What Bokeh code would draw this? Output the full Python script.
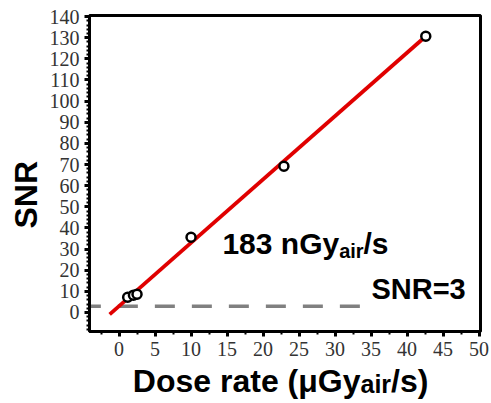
import math
from bokeh.plotting import figure
from bokeh.models import Label, SingleIntervalTicker, Range1d
from bokeh.layouts import column, row
from bokeh.embed import file_html
from bokeh.resources import INLINE

# ---- data ----
dose_rate = [1.2, 2.0, 2.5, 10.0, 22.9, 42.6]      # µGy_air/s
snr = [7.2, 8.2, 8.6, 35.6, 69.2, 130.7]
fit_x = [-1.3, 42.6]
fit_y = [-0.9, 130.7]
threshold_x = [-5.3, 35.8]
threshold_snr = [3, 3]
x_tick_interval = 5
y_tick_interval = 10
lod_text = "183 nGy"
snr_text = "SNR=3"
x_title = "Dose rate (\u03bcGy"
y_title = "SNR"

SANS = "Liberation Sans"
SERIF = "Liberation Serif"

TOTAL_W, TOTAL_H = 490, 402
LEFT_W = 46
MAIN_H = 364

p = figure(width=TOTAL_W - LEFT_W, height=MAIN_H,
           x_range=Range1d(-4.1, 50.2), y_range=Range1d(-9, 140.5),
           output_backend="svg", toolbar_location=None,
           min_border_left=41, min_border_right=10,
           min_border_top=15, min_border_bottom=33)
p.grid.visible = False
p.outline_line_color = "black"
p.outline_line_width = 3
p.outline_line_alpha = 1.0

p.xaxis.ticker = SingleIntervalTicker(interval=x_tick_interval, num_minor_ticks=2)
p.yaxis.ticker = SingleIntervalTicker(interval=y_tick_interval, num_minor_ticks=5)

for ax in (p.xaxis, p.yaxis):
    ax.axis_line_width = 3
    ax.axis_line_color = "black"
    ax.major_tick_line_width = 3
    ax.major_tick_line_color = "black"
    ax.major_tick_out = 5
    ax.major_tick_in = 0
    ax.minor_tick_line_width = 2
    ax.minor_tick_line_color = "black"
    ax.minor_tick_out = 3
    ax.minor_tick_in = 0
    ax.major_label_text_font = SERIF
    ax.major_label_text_font_size = "20px"
    ax.major_label_text_color = "#333333"
p.yaxis.major_label_standoff = 5
p.xaxis.major_label_standoff = 5

# threshold line
p.line(threshold_x, threshold_snr, line_color="#808080", line_width=3.5, line_dash="20 17")
# fit line
p.line(fit_x, fit_y, line_color="#e00000", line_width=3.8)
# data
p.scatter(dose_rate, snr, marker="circle", size=9, line_color="black", line_width=2.5,
          fill_color="white")


def lab(fig, x, y, text, size, align="left", angle=0.0):
    fig.add_layout(Label(x=x, y=y, text=text, text_font=SANS, text_font_style="bold",
                         text_font_size=size, text_color="black", text_align=align,
                         text_baseline="alphabetic", angle=angle))


# "183 nGy_air/s"
lab(p, 30.57, 32.7, lod_text, "30px", align="right")
lab(p, 30.57, 28.9, "air", "20px")
lab(p, 33.95, 32.7, "/s", "30px")
# "SNR=3"
lab(p, 41.6, 11.0, snr_text, "29px", align="center")


def blank(w, h):
    f = figure(width=w, height=h, x_range=Range1d(0, w), y_range=Range1d(0, h),
               output_backend="svg", toolbar_location=None,
               x_axis_location=None, y_axis_location=None,
               min_border=0)
    f.grid.visible = False
    f.outline_line_color = None
    return f


# y axis title (panel left of the plot)
fl = blank(LEFT_W, MAIN_H)
lab(fl, 25, MAIN_H - 206.5, y_title, "32px", align="center", angle=math.pi / 2)

# x axis title (panel below the plot)
BOT_H = TOTAL_H - MAIN_H
fb = blank(TOTAL_W, BOT_H)
lab(fb, 360, TOTAL_H - 380, x_title, "32px", align="right")
lab(fb, 360, TOTAL_H - 383.8, "air", "25px")
lab(fb, 390.6, TOTAL_H - 380, "/s)", "32px")

layout = column(row(fl, p), fb)
open("out.html", "w").write(file_html(layout, INLINE))
